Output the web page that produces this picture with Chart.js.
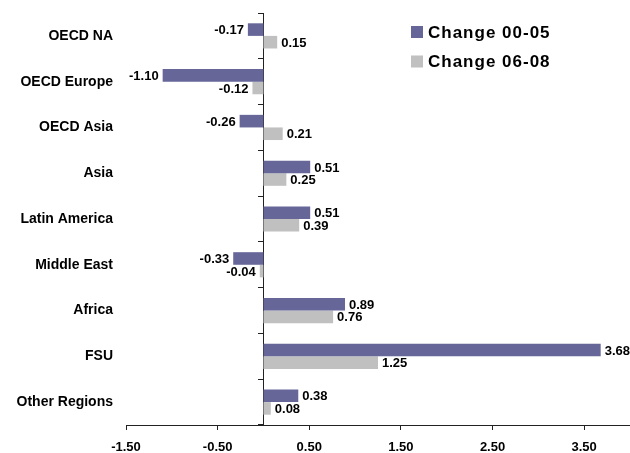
<!DOCTYPE html>
<html>
<head>
<meta charset="utf-8">
<script src="https://cdn.jsdelivr.net/npm/chart.js@4.4.0/dist/chart.umd.min.js"></script>
<style>
  html, body { margin: 0; padding: 0; background: #fff; }
</style>
</head>
<body>
<canvas id="demandChart" width="630" height="453"></canvas>
<script>
// data
const regions = ['OECD NA', 'OECD Europe', 'OECD Asia', 'Asia', 'Latin America', 'Middle East', 'Africa', 'FSU', 'Other Regions'];
const change0005 = [-0.17, -1.10, -0.26, 0.51, 0.51, -0.33, 0.89, 3.68, 0.38];
const change0608 = [0.15, -0.12, 0.21, 0.25, 0.39, -0.04, 0.76, 1.25, 0.08];
const xTickValues = [-1.5, -0.5, 0.5, 1.5, 2.5, 3.5];
const seriesNames = ['Change 00-05', 'Change 06-08'];
const seriesColors = ['#666699', '#c0c0c0'];

const FONT = '"Liberation Sans", Arial, sans-serif';
const axisColor = '#222';

// numbers at the end of each bar
const valueLabels = {
    id: 'valueLabels',
    afterDatasetsDraw(chart) {
        const ctx = chart.ctx;
        ctx.save();
        ctx.font = 'bold 13px ' + FONT;
        ctx.fillStyle = '#000';
        ctx.textBaseline = 'middle';
        chart.data.datasets.forEach((ds, i) => {
            chart.getDatasetMeta(i).data.forEach((bar, j) => {
                const v = ds.data[j];
                const neg = v < 0;
                ctx.textAlign = neg ? 'right' : 'left';
                ctx.fillText(v.toFixed(2), bar.x + (neg ? -4 : 4), bar.y + 1);
            });
        });
        ctx.restore();
    }
};

// legend stacked in the top right corner
const cornerLegend = {
    id: 'cornerLegend',
    afterDraw(chart) {
        const ctx = chart.ctx;
        ctx.save();
        ctx.font = 'bold 17px ' + FONT;
        ctx.letterSpacing = '1px';
        ctx.textBaseline = 'middle';
        ctx.textAlign = 'left';
        chart.data.datasets.forEach((ds, i) => {
            const y = 32 + i * 29.5;
            ctx.fillStyle = ds.backgroundColor;
            ctx.fillRect(411, y - 6, 12, 12);
            ctx.fillStyle = '#000';
            ctx.fillText(ds.label, 428, y + 1);
        });
        ctx.restore();
    }
};

const ctx = document.getElementById('demandChart').getContext('2d');
const demandChart = new Chart(ctx, {
    type: 'bar',
    data: {
        labels: regions,
        datasets: [{
            label: seriesNames[0],
            data: change0005,
            backgroundColor: seriesColors[0]
        }, {
            label: seriesNames[1],
            data: change0608,
            backgroundColor: seriesColors[1]
        }]
    },
    options: {
        indexAxis: 'y',
        responsive: false,
        animation: false,
        categoryPercentage: 0.55,
        barPercentage: 1.0,
        layout: {
            padding: { top: 13, right: 0, bottom: 0, left: 0 }
        },
        plugins: {
            legend: { display: false },
            tooltip: { enabled: false }
        },
        scales: {
            x: {
                type: 'linear',
                min: -1.5,
                max: 4.0,
                afterBuildTicks: axis => {
                    axis.ticks = xTickValues.map(v => ({ value: v }));
                },
                afterFit: s => { s.height = 28; },
                grid: { drawOnChartArea: false, tickLength: 5, color: axisColor },
                border: { color: axisColor },
                ticks: {
                    color: '#000',
                    padding: 10,
                    font: { family: FONT, size: 13, weight: 'bold' },
                    callback: v => Number(v).toFixed(2)
                }
            },
            y: {
                type: 'category',
                position: 'left',
                afterFit: s => {
                    s.width = 126;
                    s.paddingTop = 0;
                    s.paddingBottom = 0;
                },
                grid: { display: false, drawTicks: false },
                border: { display: false },
                ticks: {
                    color: '#000',
                    padding: 13,
                    font: { family: FONT, size: 14, weight: 'bold' }
                }
            },
            y2: {
                type: 'category',
                axis: 'y',
                position: { x: 0 },
                offset: true,
                ticks: { display: false },
                grid: { offset: true, drawOnChartArea: false, tickLength: 5, color: axisColor },
                border: { color: axisColor }
            }
        }
    },
    plugins: [valueLabels, cornerLegend]
});
</script>
</body>
</html>
